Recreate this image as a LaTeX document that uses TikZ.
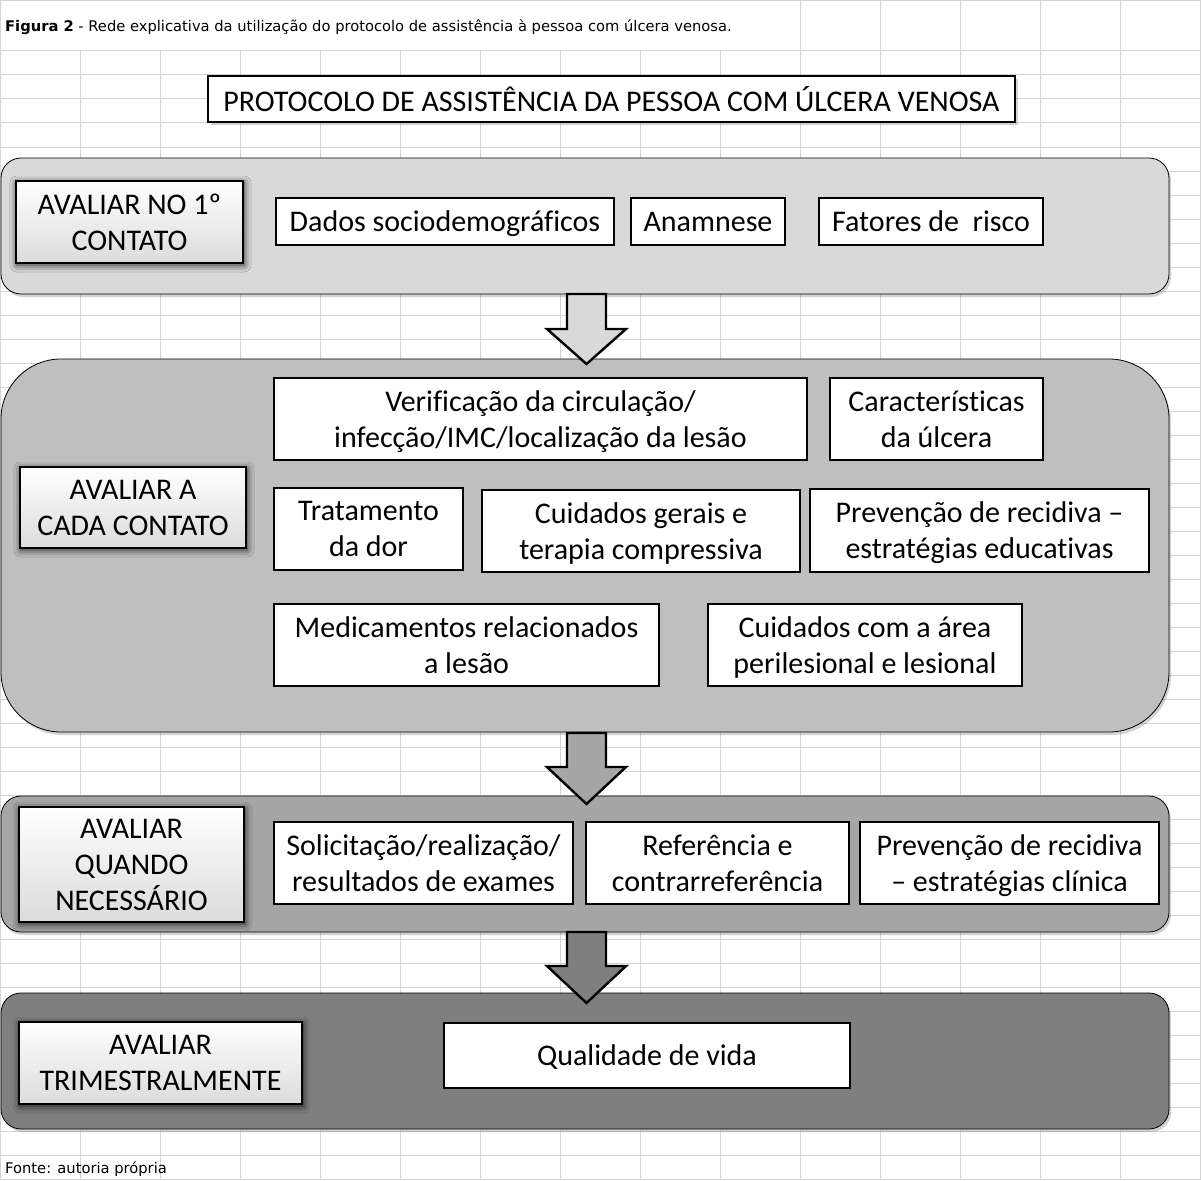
\documentclass[tikz,border=0pt]{standalone}
\usepackage{fontspec}
\setmainfont{Carlito}[Ligatures=CommonOff]
\newfontfamily\capfont{DejaVu Sans}
\usetikzlibrary{shadows,shadows.blur,calc}
\definecolor{gridc}{HTML}{D4D4D4}
\definecolor{bandA}{HTML}{D9D9D9}
\definecolor{bandB}{HTML}{BFBFBF}
\definecolor{bandC}{HTML}{A6A6A6}
\definecolor{bandD}{HTML}{7F7F7F}
\tikzset{
  gridline/.style={draw=gridc, line width=1pt},
  band/.style={draw=black, line width=0.8pt, rounded corners=20pt, inner sep=0pt,
    minimum width=1168pt,
    drop shadow={shadow xshift=2pt, shadow yshift=-3pt, opacity=0.35}},
  item/.style={draw=black, line width=2.6pt, fill=white, align=center, inner sep=0pt,
    text depth=0pt, font=\fontsize{30}{36}\selectfont},
  lead/.style={item,
    blur shadow={shadow xshift=1pt, shadow yshift=-2pt, shadow blur radius=7pt, shadow opacity=85},
    top color=white, middle color=white, bottom color=black!14},
  barrow/.style={draw=black, line width=2.4pt, line join=miter},
  smalltext/.style={anchor=base west, inner sep=0pt, font=\capfont\fontsize{14.7}{17}\selectfont},
}
\begin{document}
\begin{tikzpicture}[x=1pt,y=-1pt]
\useasboundingbox (0,0) rectangle (1201,1180);
\fill[white] (0,0) rectangle (1201,1180);
% spreadsheet grid
\foreach \k in {0,...,47} \draw[gridline] (0,51+24*\k) -- (1201,51+24*\k);
\draw[gridline] (0,0.5) -- (1201,0.5);
\draw[gridline] (0.5,0) -- (0.5,1180);
\foreach \x in {80,160,...,720} \draw[gridline] (\x,51) -- (\x,1180);
\foreach \x in {800,880,...,1200} \draw[gridline] (\x,0) -- (\x,1180);

% caption
\node[smalltext] (cap) at (5,32) {\textbf{Figura 2} - Rede explicativa da utilização do protocolo de assistência à pessoa com úlcera venosa.};
\node[smalltext] (fonte) at (5,1173) {Fonte: autoria própria};

% title
\node[item, minimum width=807pt, minimum height=46pt,
  drop shadow={shadow xshift=3pt, shadow yshift=-3pt, opacity=0.35}] (title) at (611.5,99)
  {PROTOCOLO DE ASSISTÊNCIA DA PESSOA COM ÚLCERA VENOSA};

% bands
\node[band, fill=bandA, minimum height=136pt] (b1) at (585,226) {};
\node[band, fill=bandB, minimum height=373pt, rounded corners=60pt] (b2) at (585,545.5) {};
\node[band, fill=bandC, minimum height=136pt] (b3) at (585,864) {};
\node[band, fill=bandD, minimum height=136pt] (b4) at (585,1061) {};

% arrows between bands
\draw[barrow, fill=bandA] (567,294) -- (606,294) -- (606,329) -- (626,329) -- (586.5,364) -- (547,329) -- (567,329) -- cycle;
\draw[barrow, fill=bandC] (567,733) -- (606,733) -- (606,767) -- (626,767) -- (586.5,804) -- (547,767) -- (567,767) -- cycle;
\draw[barrow, fill=bandD] (567,932) -- (606,932) -- (606,966) -- (626,966) -- (586.5,1003) -- (547,966) -- (567,966) -- cycle;

% band 1
\node[lead, minimum width=227pt, minimum height=82pt] (lead1) at (129.5,222) {AVALIAR NO 1º\\CONTATO};
\node[item, minimum width=338pt, minimum height=47pt] (dados) at (445,221.5) {Dados sociodemográficos};
\node[item, minimum width=154pt, minimum height=47pt] (anam) at (708,221.5) {Anamnese};
\node[item, minimum width=224pt, minimum height=47pt] (fator) at (931,221.5) {Fatores de\ \ risco};

% band 2
\node[lead, minimum width=226pt, minimum height=81pt] (lead2) at (133,507.5) {AVALIAR A\\CADA CONTATO};
\node[item, minimum width=533pt, minimum height=82pt] (verif) at (540.5,419) {Verificação da circulação/\\infecção/IMC/localização da lesão};
\node[item, minimum width=213pt, minimum height=82pt] (carac) at (936.5,419) {Características\\da úlcera};
\node[item, minimum width=189pt, minimum height=82pt] (trat) at (368.5,529) {Tratamento\\da dor};
\node[item, minimum width=318pt, minimum height=82pt] (cuid) at (641,531) {Cuidados gerais e\\terapia compressiva};
\node[item, minimum width=339pt, minimum height=83pt] (prev1) at (979.5,530.5) {Prevenção de recidiva –\\estratégias educativas};
\node[item, minimum width=385pt, minimum height=82pt] (medic) at (466.5,645) {Medicamentos relacionados\\a lesão};
\node[item, minimum width=314pt, minimum height=82pt] (area) at (865,645) {Cuidados com a área\\perilesional e lesional};

% band 3
\node[lead, minimum width=225pt, minimum height=115pt] (lead3) at (131.5,864.5) {AVALIAR\\QUANDO\\NECESSÁRIO};
\node[item, minimum width=299pt, minimum height=82pt] (solic) at (423.5,863) {Solicitação/realização/\\resultados de exames};
\node[item, minimum width=263pt, minimum height=82pt] (refer) at (717.5,863) {Referência e\\contrarreferência};
\node[item, minimum width=299pt, minimum height=82pt] (prev2) at (1009.5,863) {Prevenção de recidiva\\– estratégias clínica};

% band 4
\node[lead, minimum width=283pt, minimum height=82pt] (lead4) at (160.5,1063) {AVALIAR\\TRIMESTRALMENTE};
\node[item, minimum width=406pt, minimum height=65pt] (qual) at (647,1055.5) {Qualidade de vida};
\end{tikzpicture}
\end{document}
